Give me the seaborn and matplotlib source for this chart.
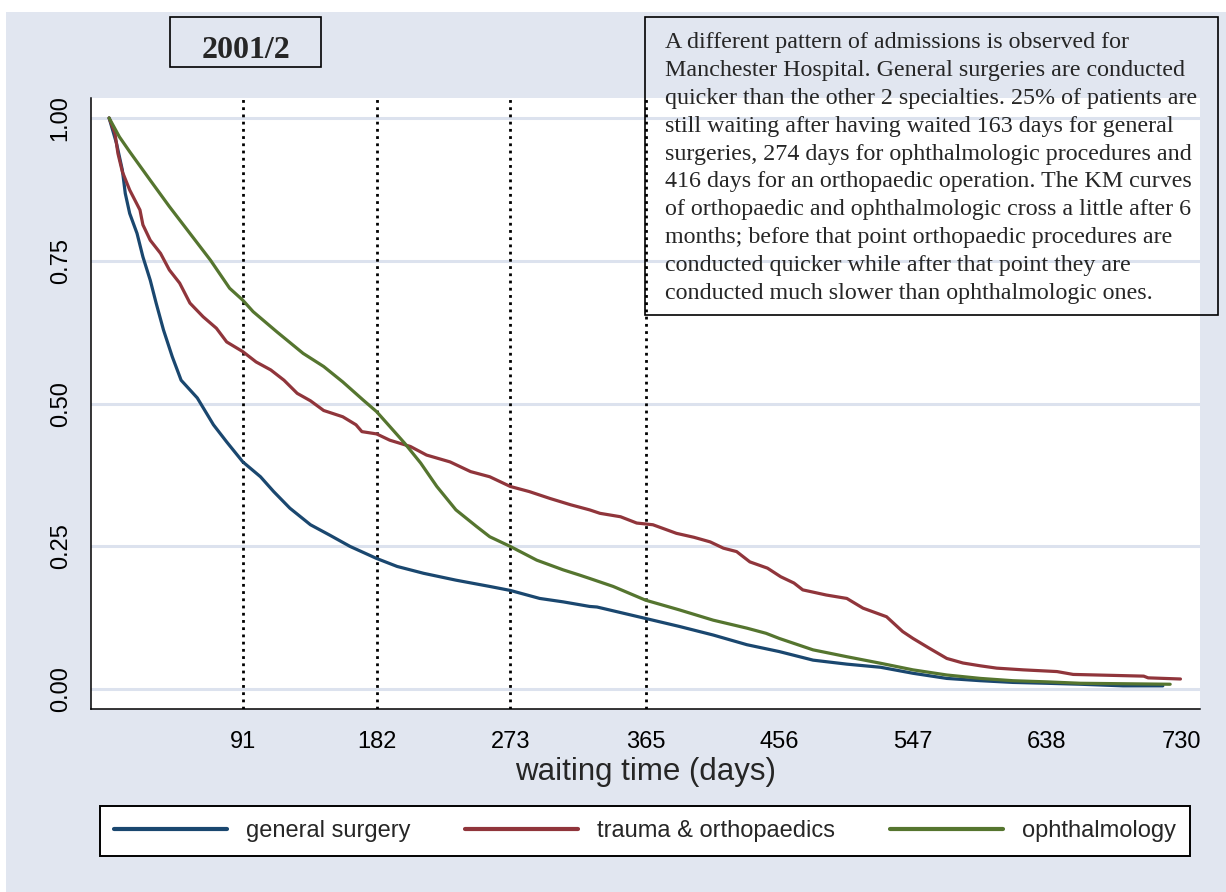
import numpy as np
import pandas as pd
import matplotlib
matplotlib.use("Agg")
import matplotlib.pyplot as plt
from matplotlib.patches import Rectangle
import seaborn as sns

# ---------------- data ----------------
specialties = ["general surgery", "trauma & orthopaedics", "ophthalmology"]
colors = ["#1A476F", "#90353B", "#55752F"]

gs_days = [0, 5, 9, 11, 14, 19, 23, 28, 32, 37, 43, 49, 60, 71, 80, 91, 103, 112, 123, 137,
           150, 164, 182, 196, 214, 236, 259, 273, 293, 309, 327, 332, 365, 388, 411, 434,
           456, 479, 502, 525, 547, 570, 593, 615, 638, 661, 690, 717]
gs_surv = [1.0, 0.956, 0.909, 0.868, 0.833, 0.798, 0.757, 0.716, 0.676, 0.629, 0.582, 0.541,
           0.510, 0.463, 0.433, 0.398, 0.372, 0.346, 0.317, 0.288, 0.270, 0.250, 0.229, 0.215,
           0.203, 0.191, 0.180, 0.173, 0.159, 0.153, 0.145, 0.144, 0.124, 0.110, 0.095, 0.078,
           0.066, 0.051, 0.044, 0.0385, 0.028, 0.019, 0.015, 0.012, 0.0105, 0.0088, 0.006, 0.006]

to_days = [0, 4, 6, 9, 14, 21, 23, 28, 35, 41, 48, 55, 64, 73, 80, 91, 100, 110, 119, 128,
           137, 146, 159, 168, 172, 182, 191, 205, 216, 232, 246, 259, 273, 286, 300, 314,
           327, 334, 348, 359, 370, 386, 398, 409, 418, 427, 436, 448, 457, 466, 472, 488,
           502, 513, 529, 540, 547, 558, 570, 581, 593, 604, 622, 645, 656, 704, 707, 729]
to_surv = [1.0, 0.973, 0.938, 0.906, 0.874, 0.839, 0.813, 0.786, 0.763, 0.734, 0.711, 0.676,
           0.652, 0.632, 0.608, 0.591, 0.573, 0.559, 0.541, 0.518, 0.505, 0.488, 0.477, 0.463,
           0.451, 0.447, 0.436, 0.425, 0.410, 0.398, 0.381, 0.372, 0.355, 0.346, 0.334, 0.323,
           0.314, 0.308, 0.302, 0.291, 0.288, 0.273, 0.266, 0.258, 0.247, 0.241, 0.223, 0.212,
           0.197, 0.186, 0.174, 0.165, 0.159, 0.142, 0.127, 0.101, 0.089, 0.072, 0.054, 0.046,
           0.041, 0.037, 0.034, 0.031, 0.026, 0.023, 0.020, 0.018]

op_days = [0, 7, 14, 28, 41, 55, 69, 82, 91, 98, 114, 132, 146, 159, 173, 182, 191, 201, 212,
           223, 236, 250, 259, 273, 291, 309, 320, 327, 343, 365, 388, 411, 434, 447, 456, 479,
           502, 525, 547, 570, 593, 615, 638, 661, 722]
op_surv = [1.0, 0.967, 0.941, 0.891, 0.845, 0.798, 0.751, 0.702, 0.681, 0.661, 0.626, 0.588,
           0.565, 0.538, 0.506, 0.486, 0.460, 0.431, 0.396, 0.355, 0.314, 0.285, 0.267, 0.250,
           0.226, 0.209, 0.200, 0.194, 0.180, 0.156, 0.139, 0.121, 0.107, 0.098, 0.089, 0.069,
           0.057, 0.0455, 0.034, 0.025, 0.019, 0.015, 0.013, 0.0105, 0.0088]

x_ticks = [91, 182, 273, 365, 456, 547, 638, 730]
y_ticks = [0.0, 0.25, 0.50, 0.75, 1.00]
y_ticklabels = ["0.00", "0.25", "0.50", "0.75", "1.00"]
ref_lines = [91, 182, 273, 365]

title_text = "2001/2"
x_label = "waiting time (days)"
note_text = ("A different pattern of admissions is observed for\n"
             "Manchester Hospital. General surgeries are conducted\n"
             "quicker than the other 2 specialties. 25% of patients are\n"
             "still waiting after having waited 163 days for general\n"
             "surgeries, 274 days for ophthalmologic procedures and\n"
             "416 days for an orthopaedic operation. The KM curves\n"
             "of orthopaedic and ophthalmologic cross a little after 6\n"
             "months; before that point orthopaedic procedures are\n"
             "conducted quicker while after that point they are\n"
             "conducted much slower than ophthalmologic ones.")

df = pd.concat([
    pd.DataFrame({"day": gs_days, "survival": gs_surv, "specialty": specialties[0]}),
    pd.DataFrame({"day": to_days, "survival": to_surv, "specialty": specialties[1]}),
    pd.DataFrame({"day": op_days, "survival": op_surv, "specialty": specialties[2]}),
], ignore_index=True)

# ---------------- style ----------------
sns.set_style("white")
plt.rcParams["font.family"] = ["Liberation Sans", "DejaVu Sans"]

W, H = 1226, 892
BG = "#E1E6F0"
GRID = "#DCE2EE"

def fx(x):
    return x / W

def fy(y):
    return 1 - y / H

fig = plt.figure(figsize=(W / 100, H / 100), dpi=100, facecolor="white")
fig.patches.append(Rectangle((fx(6), 0), 1 - fx(6), fy(12), transform=fig.transFigure,
                             facecolor=BG, edgecolor="none", zorder=-5))

ax = fig.add_axes([fx(90.5), fy(708.7), (1200 - 90.5) / W, (708.7 - 98) / H])
ax.set_facecolor("white")

palette = dict(zip(specialties, colors))
sns.lineplot(data=df, x="day", y="survival", hue="specialty", hue_order=specialties,
             palette=palette, estimator=None, sort=False, linewidth=2.3, ax=ax,
             legend=True, zorder=3)

leg0 = ax.get_legend()
handles = list(leg0.legend_handles)
labels = [t.get_text() for t in leg0.get_texts()]
leg0.remove()
for h in handles:
    h.set_linewidth(3.0)

for xv in ref_lines:
    ax.axvline(xv, color="black", linestyle=(0, (1, 1.6)), linewidth=2.0, zorder=2)

ax.set_xlim(-12.66, 742.3)
ax.set_ylim(-0.034, 1.035)
ax.set_xticks(x_ticks)
ax.set_xticklabels([str(v) for v in x_ticks])
ax.set_yticks(y_ticks)
ax.set_yticklabels(y_ticklabels, rotation=90, va="center")
ax.yaxis.grid(True, color=GRID, linewidth=2.2, zorder=0)
ax.xaxis.grid(False)
ax.set_axisbelow(True)

for s in ["top", "right"]:
    ax.spines[s].set_visible(False)
for s in ["left", "bottom"]:
    ax.spines[s].set_color("black")
    ax.spines[s].set_linewidth(1.1)

ax.tick_params(axis="both", direction="out", length=9, width=1.0, color="black",
               labelsize=17, labelcolor="black")
ax.tick_params(axis="x", pad=7)
ax.tick_params(axis="y", pad=4.5)
ax.set_xlabel(x_label, fontsize=22.5, labelpad=3)
ax.set_ylabel("")

# title box
fig.patches.append(Rectangle((fx(170), fy(67.3)), (320.7 - 170) / W, (67.3 - 16.7) / H,
                             transform=fig.transFigure, facecolor="none",
                             edgecolor="black", linewidth=1.2, zorder=5))
fig.text(fx(245.6), fy(58.3), title_text, ha="center", va="baseline",
         fontsize=23, fontweight="bold", family=["Liberation Serif"], zorder=6)

# note box
fig.patches.append(Rectangle((fx(644.7), fy(315)), (1218 - 644.7) / W, (315 - 16.7) / H,
                             transform=fig.transFigure, facecolor="none",
                             edgecolor="black", linewidth=1.2, zorder=5))
fig.text(fx(664.7), fy(32), note_text, ha="left", va="top", fontsize=17.3,
         family=["Liberation Serif"], linespacing=1.43, zorder=6)

# legend
leg = fig.legend(handles, labels, loc="center", ncol=3, mode="expand",
                 bbox_to_anchor=(fx(100), fy(859.3), (1190 - 100) / W, (859.3 - 802.7) / H),
                 bbox_transform=fig.transFigure, borderaxespad=0, fontsize=17,
                 frameon=True, fancybox=False, edgecolor="black", facecolor="white",
                 framealpha=1, handlelength=4.8, handletextpad=0.8, borderpad=0.6)
leg.get_frame().set_linewidth(1.4)

fig.savefig("out.png", dpi=100, facecolor=fig.get_facecolor())
